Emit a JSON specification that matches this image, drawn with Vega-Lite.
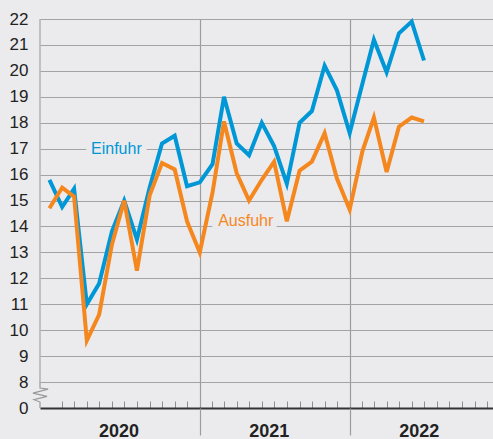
{
  "$schema": "https://vega.github.io/schema/vega-lite/v6.json",
  "width": 453,
  "height": 389,
  "autosize": {"type": "none"},
  "padding": {"left": 40, "top": 19, "right": 0, "bottom": 31},
  "background": "#ebebed",
  "config": {"view": {"stroke": null}, "font": "Liberation Sans"},
  "datasets": {
    "einfuhr": [
      {"date": "2020-01-01", "value": 15.8}, {"date": "2020-02-01", "value": 14.75}, {"date": "2020-03-01", "value": 15.45},
      {"date": "2020-04-01", "value": 11.0}, {"date": "2020-05-01", "value": 11.8}, {"date": "2020-06-01", "value": 13.8},
      {"date": "2020-07-01", "value": 15.0}, {"date": "2020-08-01", "value": 13.5}, {"date": "2020-09-01", "value": 15.5},
      {"date": "2020-10-01", "value": 17.2}, {"date": "2020-11-01", "value": 17.5}, {"date": "2020-12-01", "value": 15.55},
      {"date": "2021-01-01", "value": 15.7}, {"date": "2021-02-01", "value": 16.4}, {"date": "2021-03-01", "value": 19.0},
      {"date": "2021-04-01", "value": 17.2}, {"date": "2021-05-01", "value": 16.75}, {"date": "2021-06-01", "value": 18.0},
      {"date": "2021-07-01", "value": 17.1}, {"date": "2021-08-01", "value": 15.65}, {"date": "2021-09-01", "value": 18.0},
      {"date": "2021-10-01", "value": 18.45}, {"date": "2021-11-01", "value": 20.2}, {"date": "2021-12-01", "value": 19.25},
      {"date": "2022-01-01", "value": 17.6}, {"date": "2022-02-01", "value": 19.5}, {"date": "2022-03-01", "value": 21.2},
      {"date": "2022-04-01", "value": 19.95}, {"date": "2022-05-01", "value": 21.45}, {"date": "2022-06-01", "value": 21.9},
      {"date": "2022-07-01", "value": 20.4}
    ],
    "ausfuhr": [
      {"date": "2020-01-01", "value": 14.7}, {"date": "2020-02-01", "value": 15.5}, {"date": "2020-03-01", "value": 15.15},
      {"date": "2020-04-01", "value": 9.6}, {"date": "2020-05-01", "value": 10.6}, {"date": "2020-06-01", "value": 13.3},
      {"date": "2020-07-01", "value": 15.0}, {"date": "2020-08-01", "value": 12.3}, {"date": "2020-09-01", "value": 15.2},
      {"date": "2020-10-01", "value": 16.45}, {"date": "2020-11-01", "value": 16.2}, {"date": "2020-12-01", "value": 14.2},
      {"date": "2021-01-01", "value": 13.0}, {"date": "2021-02-01", "value": 15.3}, {"date": "2021-03-01", "value": 18.05},
      {"date": "2021-04-01", "value": 16.05}, {"date": "2021-05-01", "value": 15.0}, {"date": "2021-06-01", "value": 15.8},
      {"date": "2021-07-01", "value": 16.5}, {"date": "2021-08-01", "value": 14.2}, {"date": "2021-09-01", "value": 16.15},
      {"date": "2021-10-01", "value": 16.5}, {"date": "2021-11-01", "value": 17.6}, {"date": "2021-12-01", "value": 15.85},
      {"date": "2022-01-01", "value": 14.65}, {"date": "2022-02-01", "value": 16.9}, {"date": "2022-03-01", "value": 18.2},
      {"date": "2022-04-01", "value": 16.1}, {"date": "2022-05-01", "value": 17.85}, {"date": "2022-06-01", "value": 18.2},
      {"date": "2022-07-01", "value": 18.05}
    ],
    "labels": [
      {"label": "Einfuhr", "date": "2020-06-12", "value": 16.78},
      {"label": "Ausfuhr", "date": "2021-04-23", "value": 14.03}
    ]
  },
  "layer": [
    {
      "data": {"name": "labels"},
      "mark": {"type": "text", "fontSize": 16, "font": "Liberation Sans", "align": "center", "baseline": "alphabetic", "fill": "#ebebed", "stroke": "#ebebed", "strokeWidth": 12, "strokeJoin": "round"},
      "encoding": {
        "x": {
          "field": "date", "type": "temporal",
          "scale": {"type": "utc", "domain": [{"year": 2019, "month": 12, "date": 9, "utc": true}, {"year": 2022, "month": 12, "date": 16, "utc": true}]},
          "axis": {
            "orient": "bottom", "title": null, "labels": false, "grid": false,
            "values": [
              {"year": 2020, "month": 2, "date": 1, "utc": true}, {"year": 2020, "month": 3, "date": 1, "utc": true}, {"year": 2020, "month": 4, "date": 1, "utc": true},
              {"year": 2020, "month": 5, "date": 1, "utc": true}, {"year": 2020, "month": 6, "date": 1, "utc": true}, {"year": 2020, "month": 7, "date": 1, "utc": true},
              {"year": 2020, "month": 8, "date": 1, "utc": true}, {"year": 2020, "month": 9, "date": 1, "utc": true}, {"year": 2020, "month": 10, "date": 1, "utc": true},
              {"year": 2020, "month": 11, "date": 1, "utc": true}, {"year": 2020, "month": 12, "date": 1, "utc": true},
              {"year": 2021, "month": 2, "date": 1, "utc": true}, {"year": 2021, "month": 3, "date": 1, "utc": true}, {"year": 2021, "month": 4, "date": 1, "utc": true},
              {"year": 2021, "month": 5, "date": 1, "utc": true}, {"year": 2021, "month": 6, "date": 1, "utc": true}, {"year": 2021, "month": 7, "date": 1, "utc": true},
              {"year": 2021, "month": 8, "date": 1, "utc": true}, {"year": 2021, "month": 9, "date": 1, "utc": true}, {"year": 2021, "month": 10, "date": 1, "utc": true},
              {"year": 2021, "month": 11, "date": 1, "utc": true}, {"year": 2021, "month": 12, "date": 1, "utc": true},
              {"year": 2022, "month": 2, "date": 1, "utc": true}, {"year": 2022, "month": 3, "date": 1, "utc": true}, {"year": 2022, "month": 4, "date": 1, "utc": true},
              {"year": 2022, "month": 5, "date": 1, "utc": true}, {"year": 2022, "month": 6, "date": 1, "utc": true}, {"year": 2022, "month": 7, "date": 1, "utc": true},
              {"year": 2022, "month": 8, "date": 1, "utc": true}, {"year": 2022, "month": 9, "date": 1, "utc": true}, {"year": 2022, "month": 10, "date": 1, "utc": true},
              {"year": 2022, "month": 11, "date": 1, "utc": true}, {"year": 2022, "month": 12, "date": 1, "utc": true}
            ],
            "ticks": true, "tickSize": -7, "tickColor": "#8f8f8f", "tickWidth": 1,
            "domain": true, "domainColor": "#333333", "domainWidth": 2
          }
        },
        "y": {
          "field": "value", "type": "quantitative",
          "scale": {"domain": [7, 22], "nice": false, "zero": false},
          "axis": {
            "title": null, "orient": "left",
            "values": [7, 8, 9, 10, 11, 12, 13, 14, 15, 16, 17, 18, 19, 20, 21, 22],
            "labelExpr": "datum.value == 7 ? '0' : datum.label",
            "ticks": false, "domain": false,
            "grid": true, "gridColor": "#a3a3a3", "gridWidth": 1,
            "gridOpacity": {"condition": {"test": "datum.value == 7", "value": 0}, "value": 1},
            "labelFont": "Liberation Sans", "labelFontSize": 17, "labelColor": "#222222", "labelPadding": 12
          }
        },
        "text": {"field": "label"}
      }
    },
    {
      "data": {"name": "labels"},
      "mark": {"type": "text", "fontSize": 16, "font": "Liberation Sans", "align": "center", "baseline": "alphabetic"},
      "encoding": {
        "x": {"field": "date", "type": "temporal", "axis": null},
        "y": {
          "field": "value", "type": "quantitative",
          "axis": {
            "title": null, "orient": "left",
            "values": [7, 8, 9, 10, 11, 12, 13, 14, 15, 16, 17, 18, 19, 20, 21, 22],
            "labelExpr": "datum.value == 7 ? '0' : datum.label",
            "ticks": false, "domain": false,
            "grid": true, "gridColor": "#a3a3a3", "gridWidth": 1,
            "gridOpacity": {"condition": {"test": "datum.value == 7", "value": 0}, "value": 1},
            "labelFont": "Liberation Sans", "labelFontSize": 17, "labelColor": "#222222", "labelPadding": 12
          }
        },
        "text": {"field": "label"},
        "color": {"field": "label", "type": "nominal", "scale": {"domain": ["Einfuhr", "Ausfuhr"], "range": ["#0097d7", "#f5871f"]}, "legend": null}
      }
    },
    {
      "data": {"values": [{}]},
      "mark": {"type": "rule", "color": "#a3a3a3", "strokeWidth": 1.2},
      "encoding": {
        "x": {"datum": {"year": 2019, "month": 12, "date": 9, "utc": true}, "type": "temporal", "axis": null},
        "y": {
          "datum": 8, "type": "quantitative",
          "axis": {
            "title": null, "orient": "left",
            "values": [7, 8, 9, 10, 11, 12, 13, 14, 15, 16, 17, 18, 19, 20, 21, 22],
            "labelExpr": "datum.value == 7 ? '0' : datum.label",
            "ticks": false, "domain": false,
            "grid": true, "gridColor": "#a3a3a3", "gridWidth": 1,
            "gridOpacity": {"condition": {"test": "datum.value == 7", "value": 0}, "value": 1},
            "labelFont": "Liberation Sans", "labelFontSize": 17, "labelColor": "#222222", "labelPadding": 12
          }
        },
        "y2": {"datum": 22}
      }
    },
    {
      "data": {"values": [{}]},
      "mark": {"type": "point", "filled": false, "stroke": "#999999", "strokeWidth": 1.2, "opacity": 1, "size": 676,
               "shape": "M0,-1 L0,-0.54 L0.62,-0.46 L-0.54,-0.15 L0.54,0.1 L-0.46,0.36 L0,0.54 L0,1"},
      "encoding": {
        "x": {"datum": {"year": 2019, "month": 12, "date": 9, "utc": true}, "type": "temporal", "axis": null},
        "y": {
          "datum": 7.5, "type": "quantitative",
          "axis": {
            "title": null, "orient": "left",
            "values": [7, 8, 9, 10, 11, 12, 13, 14, 15, 16, 17, 18, 19, 20, 21, 22],
            "labelExpr": "datum.value == 7 ? '0' : datum.label",
            "ticks": false, "domain": false,
            "grid": true, "gridColor": "#a3a3a3", "gridWidth": 1,
            "gridOpacity": {"condition": {"test": "datum.value == 7", "value": 0}, "value": 1},
            "labelFont": "Liberation Sans", "labelFontSize": 17, "labelColor": "#222222", "labelPadding": 12
          }
        }
      }
    },
    {
      "data": {"name": "einfuhr"},
      "mark": {"type": "line", "stroke": "#0097d7", "strokeWidth": 4, "strokeJoin": "miter", "strokeCap": "butt"},
      "encoding": {
        "x": {
          "field": "date", "type": "temporal",
          "axis": {
            "orient": "bottom", "title": null,
            "values": [{"year": 2020, "month": 1, "date": 1, "utc": true}, {"year": 2021, "month": 1, "date": 1, "utc": true}, {"year": 2022, "month": 1, "date": 1, "utc": true}],
            "labelExpr": "utcFormat(datum.value, '%Y')",
            "labelOffset": 69, "labelPadding": -13, "labelFontSize": 18, "labelFontWeight": "bold", "labelColor": "#222222",
            "labelFont": "Liberation Sans", "labelFlush": false, "labelOverlap": false, "labelBound": false,
            "grid": true, "gridColor": "#9c9c9c", "gridWidth": 1.2,
            "gridOpacity": {"condition": {"test": "datum.value < 1590000000000", "value": 0}, "value": 1},
            "ticks": true, "tickSize": 27, "tickColor": "#9c9c9c", "tickWidth": 1.2,
            "tickOpacity": {"condition": {"test": "datum.value < 1590000000000", "value": 0}, "value": 1},
            "domain": false
          }
        },
        "y": {
          "field": "value", "type": "quantitative",
          "axis": {
            "title": null, "orient": "left",
            "values": [7, 8, 9, 10, 11, 12, 13, 14, 15, 16, 17, 18, 19, 20, 21, 22],
            "labelExpr": "datum.value == 7 ? '0' : datum.label",
            "ticks": false, "domain": false,
            "grid": true, "gridColor": "#a3a3a3", "gridWidth": 1,
            "gridOpacity": {"condition": {"test": "datum.value == 7", "value": 0}, "value": 1},
            "labelFont": "Liberation Sans", "labelFontSize": 17, "labelColor": "#222222", "labelPadding": 12
          }
        }
      }
    },
    {
      "data": {"name": "ausfuhr"},
      "mark": {"type": "line", "stroke": "#f5871f", "strokeWidth": 4, "strokeJoin": "miter", "strokeCap": "butt"},
      "encoding": {
        "x": {"field": "date", "type": "temporal", "axis": null},
        "y": {
          "field": "value", "type": "quantitative",
          "axis": {
            "title": null, "orient": "left",
            "values": [7, 8, 9, 10, 11, 12, 13, 14, 15, 16, 17, 18, 19, 20, 21, 22],
            "labelExpr": "datum.value == 7 ? '0' : datum.label",
            "ticks": false, "domain": false,
            "grid": true, "gridColor": "#a3a3a3", "gridWidth": 1,
            "gridOpacity": {"condition": {"test": "datum.value == 7", "value": 0}, "value": 1},
            "labelFont": "Liberation Sans", "labelFontSize": 17, "labelColor": "#222222", "labelPadding": 12
          }
        }
      }
    }
  ],
  "resolve": {"axis": {"x": "independent"}}
}
